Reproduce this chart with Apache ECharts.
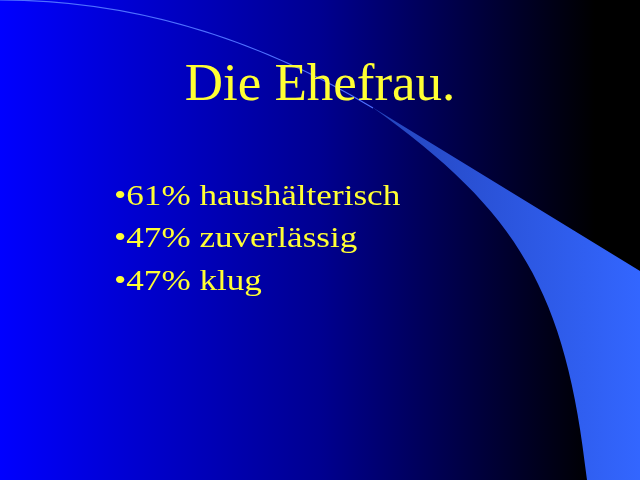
<!DOCTYPE html>
<html>
<head>
<meta charset="utf-8">
<script src="https://cdn.jsdelivr.net/npm/echarts@6/dist/echarts.min.js"></script>
<style>
  html, body { margin: 0; padding: 0; background: #000; }
  #slide { width: 640px; height: 480px; }
</style>
</head>
<body>
<div id="slide"></div>
<script>
// slide content
var slideTitle = 'Die Ehefrau.';
var percents = [61, 47, 47];
var traits = ['haushälterisch', 'zuverlässig', 'klug'];

// the light blue wedge on the right (decoration only)
echarts.graphic.registerShape('wedge', echarts.graphic.extendPath(
    'M372,107 L640,271 L640,480 L587,480 C566,292 519,212 372,107 Z'
));

var myChart = echarts.init(document.getElementById('slide'));

var bulletItems = percents.map(function (p, i) {
    return {
        type: 'text',
        x: 114,
        y: 197 + i * 42.5,
        scaleX: 1.17,
        style: {
            text: '\u2022' + p + '% ' + traits[i],
            fontFamily: 'Liberation Serif',
            fontSize: 30,
            fill: '#ffff33',
            align: 'left',
            verticalAlign: 'middle'
        },
        z: 10
    };
});

var option = {
    backgroundColor: '#000',
    graphic: [
        {
            // background gradient
            type: 'rect',
            shape: {x: 0, y: 0, width: 640, height: 480},
            style: {
                fill: {
                    type: 'linear', x: 0, y: 0, x2: 1, y2: 0,
                    colorStops: [
                        {offset: 0, color: '#0000ff'},
                        {offset: 0.5, color: '#000090'},
                        {offset: 0.93, color: '#000000'},
                        {offset: 1, color: '#000000'}
                    ]
                }
            },
            z: 0
        },
        {
            type: 'wedge',
            style: {
                fill: {
                    type: 'linear', x: 0, y: 0, x2: 1, y2: 0,
                    colorStops: [
                        {offset: 0, color: '#2444bb'},
                        {offset: 1, color: '#3366ff'}
                    ]
                }
            },
            z: 2
        },
        {
            // thin arc from the top left corner into the wedge
            type: 'bezierCurve',
            shape: {
                x1: 0, y1: 0,
                cpx1: 129, cpy1: 0,
                cpx2: 253, cpy2: 36,
                x2: 373, y2: 108
            },
            style: {
                fill: null,
                stroke: '#4f70ff',
                lineWidth: 1.2
            },
            z: 3
        },
        {
            type: 'text',
            x: 320,
            y: 86,
            style: {
                text: slideTitle,
                fontFamily: 'Liberation Serif',
                fontSize: 53,
                fill: '#ffff33',
                align: 'center',
                verticalAlign: 'middle',
                shadowColor: 'rgba(0,0,0,0.85)',
                shadowOffsetX: 2,
                shadowOffsetY: 2,
                shadowBlur: 1
            },
            z: 10
        }
    ].concat(bulletItems)
};

myChart.setOption(option);
</script>
</body>
</html>
